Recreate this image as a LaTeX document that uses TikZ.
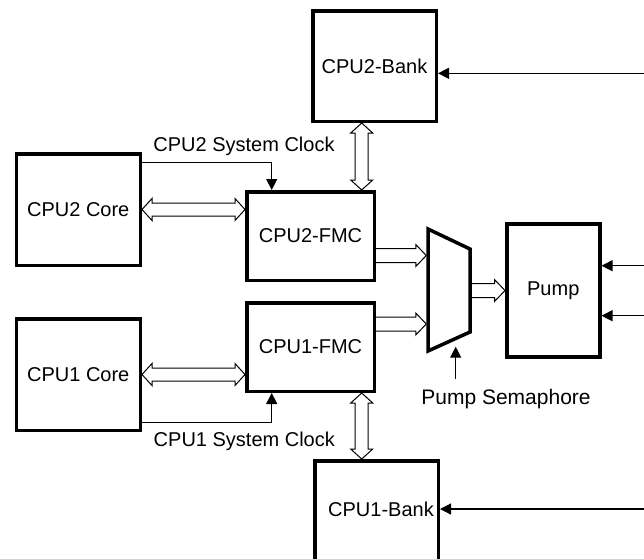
\documentclass[tikz,border=0pt]{standalone}
\usepackage{fontspec}
\setmainfont{Liberation Sans}
\usetikzlibrary{calc,arrows.meta}
\begin{document}
\begin{tikzpicture}[x=1pt,y=-1pt,
  box/.style={draw, line width=3.5pt, inner sep=0pt, outer sep=1.75pt, line join=miter, font=\fontsize{20}{24}\selectfont},
  lbl/.style={font=\fontsize{20}{24}\selectfont, inner sep=0pt, anchor=base},
  sig/.style={line width=1.2pt, -{Triangle[length=11pt,width=11pt]}},
  fatdbl/.style={line width=1pt, line join=miter, to path={
    -- ($(\tikztostart)!10pt!(\tikztotarget)!11pt!90:(\tikztotarget)$)
    -- ($(\tikztostart)!10pt!(\tikztotarget)!6.5pt!90:(\tikztotarget)$)
    -- ($(\tikztotarget)!10pt!(\tikztostart)!6.5pt!-90:(\tikztostart)$)
    -- ($(\tikztotarget)!10pt!(\tikztostart)!11pt!-90:(\tikztostart)$)
    -- (\tikztotarget)
    -- ($(\tikztotarget)!10pt!(\tikztostart)!11pt!90:(\tikztostart)$)
    -- ($(\tikztotarget)!10pt!(\tikztostart)!6.5pt!90:(\tikztostart)$)
    -- ($(\tikztostart)!10pt!(\tikztotarget)!6.5pt!-90:(\tikztotarget)$)
    -- ($(\tikztostart)!10pt!(\tikztotarget)!11pt!-90:(\tikztotarget)$)
    -- cycle}},
  fatone/.style={line width=1pt, line join=miter, to path={
    ($(\tikztostart)!7pt!90:(\tikztotarget)$)
    -- ($(\tikztotarget)!10.5pt!(\tikztostart)!7pt!-90:(\tikztostart)$)
    -- ($(\tikztotarget)!10.5pt!(\tikztostart)!11pt!-90:(\tikztostart)$)
    -- (\tikztotarget)
    -- ($(\tikztotarget)!10.5pt!(\tikztostart)!11pt!90:(\tikztostart)$)
    -- ($(\tikztotarget)!10.5pt!(\tikztostart)!7pt!90:(\tikztostart)$)
    -- ($(\tikztostart)!7pt!-90:(\tikztotarget)$)}}
]
\useasboundingbox (0,0) rectangle (644,558);
\clip (0,0) rectangle (644,558);

% boxes
\node[box, minimum width=123.5pt, minimum height=110.5pt] (bank2) at (374.5,66) {CPU2-Bank};
\node[box, minimum width=124pt, minimum height=111.5pt] (core2) at (78.25,209.5) {CPU2 Core};
\node[box, minimum width=127.5pt, minimum height=88.5pt] (fmc2) at (310.5,236) {CPU2-FMC};
\node[box, minimum width=124pt, minimum height=111.5pt] (core1) at (78.25,374.5) {CPU1 Core};
\node[box, minimum width=127.5pt, minimum height=88.5pt] (fmc1) at (310.5,347) {CPU1-FMC};
\node[box, minimum width=93pt, minimum height=133pt] (pump) at (553.25,290.6) {Pump};
\node[box, anchor=north, minimum width=123.5pt, minimum height=110.5pt] (bank1) at (376.5,459) {};
\node[lbl, anchor=center] (bank1txt) at (381,509) {CPU1-Bank};

% multiplexer
\draw[line width=3.5pt, line join=miter] (428,229) -- (470,249) -- (470,332) -- (428,351) -- cycle;

% labels
\node[lbl] (clk2lbl) at (244,151) {CPU2 System Clock};
\node[lbl] (clk1lbl) at (244.3,446.7) {CPU1 System Clock};
\node[lbl, font=\fontsize{21}{25}\selectfont] (semlbl) at (506,404) {Pump Semaphore};

% helper coordinates
\coordinate (clk2) at (271.7,162.3);
\coordinate (clk1) at (271.7,422.7);
\coordinate (vx) at (361.7,0);
\coordinate (r1) at (660,73.3);
\coordinate (r2) at (660,265.7);
\coordinate (r3) at (660,315.7);
\coordinate (r4) at (660,509);
\coordinate (mA) at (426.25,255.5);
\coordinate (mB) at (426.25,324);
\coordinate (mC) at (471.75,290.5);
\coordinate (ps0) at (455.7,379);
\coordinate (ps1) at (455.7,346.7);

% clocks
\draw[sig] (core2.east |- clk2) -| (clk2 |- fmc2.north);
\draw[sig] (core1.east |- clk1) -| (clk1 |- fmc1.south);

% hollow bidirectional buses
\draw[fatdbl] (core2.east) to (fmc2.west |- core2.east);
\draw[fatdbl] (core1.east) to (fmc1.west |- core1.east);
\draw[fatdbl] (bank2.south -| vx) to (fmc2.north -| vx);
\draw[fatdbl] (fmc1.south -| vx) to (bank1.north -| vx);

% hollow one-way buses
\draw[fatone] (fmc2.east |- mA) to (mA);
\draw[fatone] (fmc1.east |- mB) to (mB);
\draw[fatone] (mC) to (pump.west |- mC);

% incoming signals
\draw[sig] (r1) -- (bank2.east |- r1);
\draw[sig] (r2) -- (pump.east |- r2);
\draw[sig] (r3) -- (pump.east |- r3);
\draw[sig] (r4) -- (bank1.east |- r4);
\draw[sig] (ps0) -- (ps1);
\end{tikzpicture}
\end{document}
